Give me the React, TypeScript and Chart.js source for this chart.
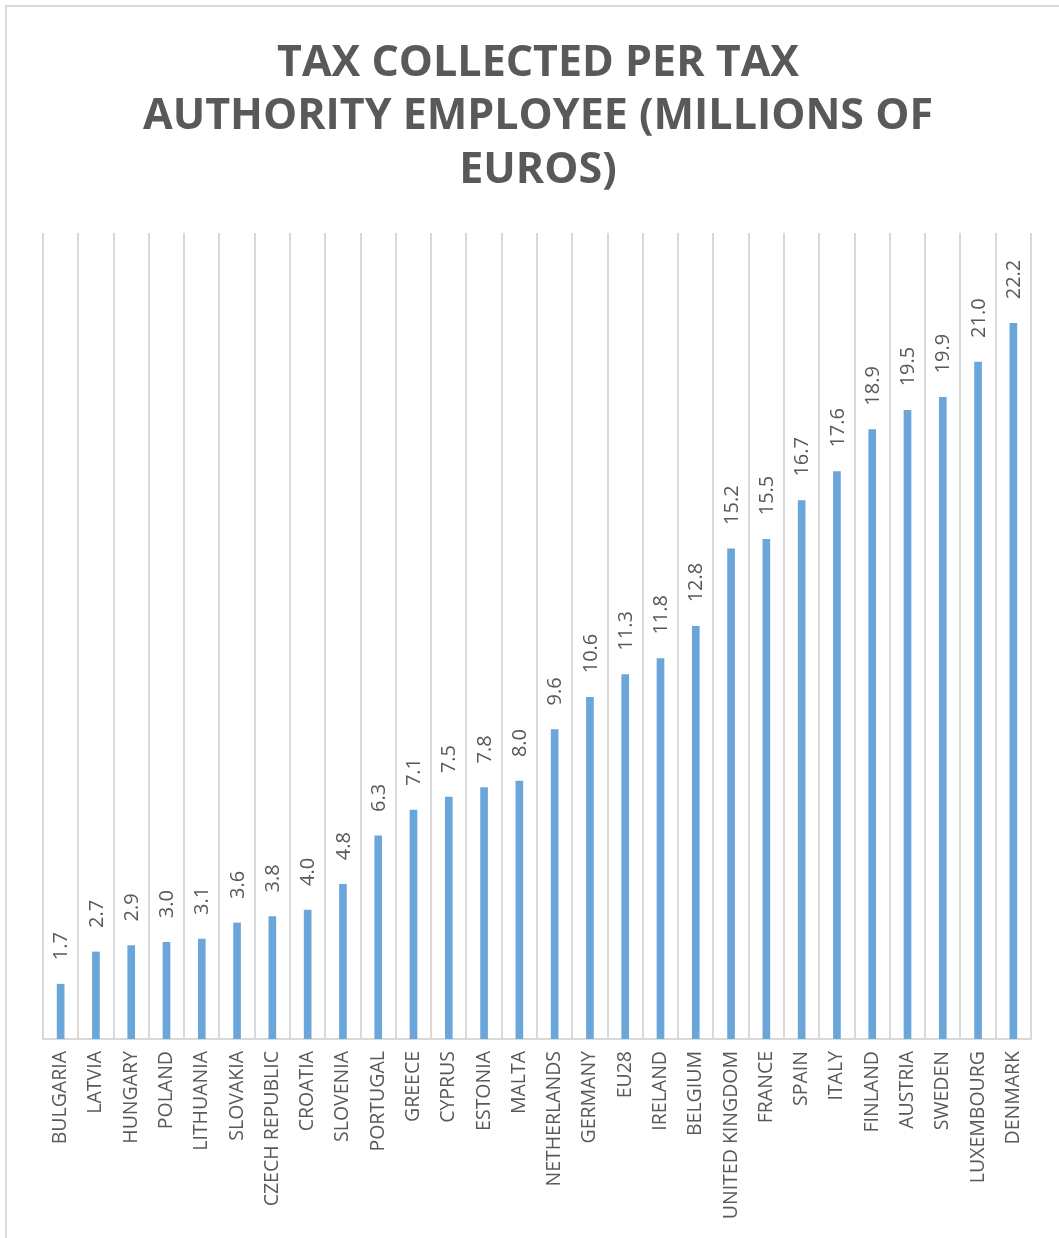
import React, { useEffect, useRef } from "react";
import { Chart, registerables } from "chart.js";

Chart.register(...registerables);

const categories = [
  "BULGARIA", "LATVIA", "HUNGARY", "POLAND", "LITHUANIA", "SLOVAKIA", "CZECH REPUBLIC",
  "CROATIA", "SLOVENIA", "PORTUGAL", "GREECE", "CYPRUS", "ESTONIA", "MALTA",
  "NETHERLANDS", "GERMANY", "EU28", "IRELAND", "BELGIUM", "UNITED KINGDOM", "FRANCE",
  "SPAIN", "ITALY", "FINLAND", "AUSTRIA", "SWEDEN", "LUXEMBOURG", "DENMARK",
];
const values = [
  1.7, 2.7, 2.9, 3.0, 3.1, 3.6, 3.8, 4.0, 4.8, 6.3, 7.1, 7.5, 7.8, 8.0,
  9.6, 10.6, 11.3, 11.8, 12.8, 15.2, 15.5, 16.7, 17.6, 18.9, 19.5, 19.9, 21.0, 22.2,
];
const titleLines = ["TAX COLLECTED PER TAX", "AUTHORITY EMPLOYEE (MILLIONS OF", "EUROS)"];

const TEXT = "#595959";
const GRID = "#d9d9d9";
const BAR = "#6aa6da";

export default function App() {
  const ref = useRef<HTMLCanvasElement | null>(null);
  useEffect(() => {
    if (!ref.current) return;
    const titlePlugin = {
      id: "titleLines",
      afterDraw(chart: any) {
        const ctx = chart.ctx;
        ctx.save();
        ctx.fillStyle = TEXT;
        ctx.font = "bold 43px 'Open Sans'";
        ctx.textAlign = "center";
        ctx.textBaseline = "middle";
        const ys = [64, 117, 171];
        titleLines.forEach((t, i) => ctx.fillText(t, 538, ys[i]));
        ctx.restore();
      },
    };
    const labelPlugin = {
      id: "valueLabels",
      afterDatasetsDraw(chart: any) {
        const ctx = chart.ctx;
        const meta = chart.getDatasetMeta(0);
        ctx.save();
        ctx.fillStyle = TEXT;
        ctx.font = "20px 'Open Sans'";
        ctx.textAlign = "left";
        ctx.textBaseline = "middle";
        meta.data.forEach((el: any, i: number) => {
          ctx.save();
          ctx.translate(el.x + 1, el.y - 24);
          ctx.rotate(-Math.PI / 2);
          ctx.fillText(values[i].toFixed(1), 0, 0);
          ctx.restore();
        });
        ctx.restore();
      },
    };
    const chart = new Chart(ref.current, {
      type: "bar",
      data: {
        labels: categories,
        datasets: [
          {
            data: values,
            backgroundColor: BAR,
            barThickness: 7,
          },
        ],
      },
      options: {
        animation: false,
        responsive: false,
        maintainAspectRatio: false,
        layout: { padding: { left: 43, right: 28, top: 233, bottom: 0 } },
        plugins: {
          legend: { display: false },
          title: { display: false },
          tooltip: { enabled: false },
        },
        scales: {
          x: {
            offset: true,
            grid: { display: true, offset: true, color: GRID, lineWidth: 2, drawTicks: false },
            border: { display: true, color: GRID, width: 2 },
            ticks: {
              color: TEXT,
              font: { family: "'Open Sans'", size: 19.5 },
              minRotation: 90,
              maxRotation: 90,
              padding: 12,
              autoSkip: false,
            },
            afterFit(scale: any) {
              scale.height = 199;
            },
          },
          y: {
            display: false,
            min: 0,
            max: 25,
          },
        },
      },
      plugins: [titlePlugin, labelPlugin],
    });
    return () => chart.destroy();
  }, []);
  return (
    <div style={{ position: "absolute", left: 0, top: 0, width: 1059, height: 1238, background: "#fff" }}>
      <div
        style={{
          position: "absolute",
          left: 5,
          top: 5,
          right: 0,
          bottom: 0,
          borderLeft: "2px solid #d9d9d9",
          borderTop: "2px solid #d9d9d9",
        }}
      />
      <canvas ref={ref} width={1059} height={1238} style={{ position: "absolute", left: 0, top: 0 }} />
    </div>
  );
}
